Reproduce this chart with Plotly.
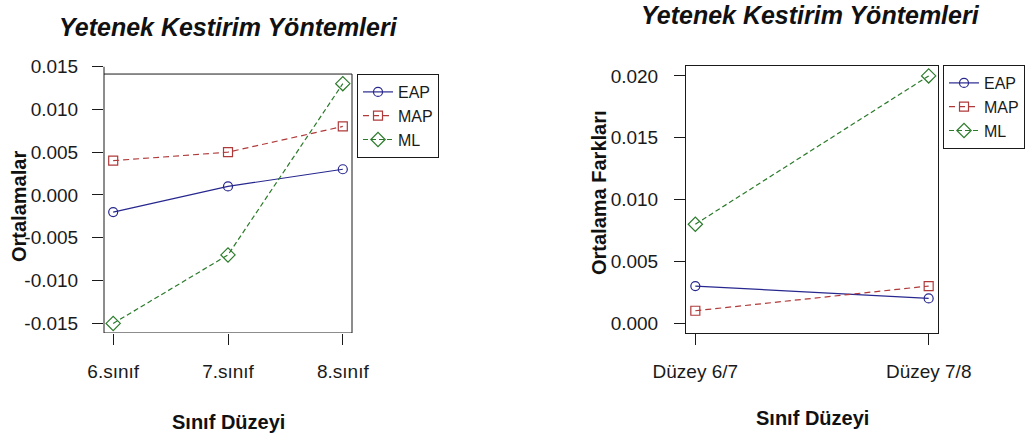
import plotly.graph_objects as go

# ---- data ----
left_categories = ["6.sınıf", "7.sınıf", "8.sınıf"]
left_eap = [-0.002, 0.001, 0.003]
left_map = [0.004, 0.005, 0.008]
left_ml = [-0.015, -0.007, 0.013]
left_yticks = [-0.015, -0.010, -0.005, 0.000, 0.005, 0.010, 0.015]
left_yticklabels = ["-0.015", "-0.010", "-0.005", "0.000", "0.005", "0.010", "0.015"]

right_categories = ["Düzey 6/7", "Düzey 7/8"]
right_eap = [0.003, 0.002]
right_map = [0.001, 0.003]
right_ml = [0.008, 0.020]
right_yticks = [0.000, 0.005, 0.010, 0.015, 0.020]
right_yticklabels = ["0.000", "0.005", "0.010", "0.015", "0.020"]

series_names = ["EAP", "MAP", "ML"]
title_text = "Yetenek Kestirim Yöntemleri"
xtitle = "Sınıf Düzeyi"
left_ytitle = "Ortalamalar"
right_ytitle = "Ortalama Farkları"

# ---- style ----
W, H = 1030, 436
FONT = "Liberation Sans, Arial, sans-serif"
colors = {"EAP": "#27278f", "MAP": "#b03a3a", "ML": "#2a7a2a"}
symbols = {"EAP": "circle-open", "MAP": "square-open", "ML": "diamond-open"}
msize = {"EAP": 9, "MAP": 9, "ML": 11}
dashes = {"EAP": "solid", "MAP": "6px,4px", "ML": "5px,3px"}


def px_x(p):
    return p / W


def px_y(p):
    return 1 - p / H


fig = go.Figure()

left_x = list(range(1, len(left_categories) + 1))
right_x = list(range(1, len(right_categories) + 1))

for name, vals in zip(series_names, [left_eap, left_map, left_ml]):
    fig.add_trace(go.Scatter(
        x=left_x, y=vals, mode="lines+markers", name=name,
        line=dict(color=colors[name], width=1.2, dash=dashes[name]),
        marker=dict(symbol=symbols[name], size=msize[name], color=colors[name],
                    line=dict(width=1.2, color=colors[name])),
        xaxis="x", yaxis="y", legend="legend",
    ))

for name, vals in zip(series_names, [right_eap, right_map, right_ml]):
    fig.add_trace(go.Scatter(
        x=right_x, y=vals, mode="lines+markers", name=name,
        line=dict(color=colors[name], width=1.2, dash=dashes[name]),
        marker=dict(symbol=symbols[name], size=msize[name], color=colors[name],
                    line=dict(width=1.2, color=colors[name])),
        xaxis="x2", yaxis="y2", legend="legend2",
    ))

tickfont = dict(family=FONT, size=19, color="#1a1a1a")
AX = "#1a1a1a"

# left plot box (R style, 4% extension)
l_lo = min(left_ml + left_eap + left_map)
l_hi = max(left_ml + left_eap + left_map)
l_pad = (l_hi - l_lo) * 0.04
l_box = [l_lo - l_pad, l_hi + l_pad]

legend_font = dict(family=FONT, size=16, color="#1a1a1a")

fig.update_layout(
    width=W, height=H,
    margin=dict(l=0, r=0, t=0, b=0, autoexpand=False),
    paper_bgcolor="white", plot_bgcolor="white",
    showlegend=True,
    xaxis=dict(
        domain=[px_x(104), px_x(352)], range=[0.92, 3.08],
        tickvals=left_x, ticktext=left_categories,
        showgrid=False, zeroline=False, showline=False, automargin=False,
        ticks="outside", ticklen=11, tickcolor=AX, tickwidth=1,
        tickfont=tickfont, ticklabelstandoff=10, anchor="y",
    ),
    yaxis=dict(
        domain=[px_y(333), px_y(66.5)], range=[l_box[0], 0.015],
        tickvals=left_yticks, ticktext=left_yticklabels,
        showgrid=False, zeroline=False, showline=False, automargin=False,
        ticks="outside", ticklen=11, tickcolor=AX, tickwidth=1,
        tickfont=tickfont, ticklabelstandoff=10, anchor="x",
    ),
    xaxis2=dict(
        domain=[px_x(686), px_x(938)], range=[0.96, 2.04],
        tickvals=right_x, ticktext=right_categories,
        showgrid=False, zeroline=False, showline=True, mirror=True, automargin=False,
        linecolor=AX, linewidth=1,
        ticks="outside", ticklen=11, tickcolor=AX, tickwidth=1,
        tickfont=tickfont, ticklabelstandoff=10, anchor="y2",
    ),
    yaxis2=dict(
        domain=[px_y(333), px_y(66)], range=[-0.0008, 0.0208],
        tickvals=right_yticks, ticktext=right_yticklabels,
        showgrid=False, zeroline=False, showline=True, mirror=True, automargin=False,
        linecolor=AX, linewidth=1,
        ticks="outside", ticklen=11, tickcolor=AX, tickwidth=1,
        tickfont=tickfont, ticklabelstandoff=12, anchor="x2",
    ),
    legend=dict(
        x=px_x(357), y=px_y(74), xanchor="left", yanchor="top",
        bordercolor=AX, borderwidth=1, bgcolor="white",
        font=legend_font, tracegroupgap=0, itemwidth=30,
    ),
    legend2=dict(
        x=px_x(943), y=px_y(65), xanchor="left", yanchor="top",
        bordercolor=AX, borderwidth=1, bgcolor="white",
        font=legend_font, tracegroupgap=0, itemwidth=30,
    ),
)

# left frame
fig.add_shape(type="rect", xref="x domain", yref="y", x0=0, x1=1,
              y0=l_box[0], y1=l_box[1], line=dict(color=AX, width=1),
              fillcolor="rgba(0,0,0,0)", layer="above")
fig.add_shape(type="line", xref="x domain", yref="y", x0=0, x1=0,
              y0=l_box[1], y1=left_yticks[-1], line=dict(color=AX, width=1))


def ann(text, x, y, size, angle=0):
    fig.add_annotation(text=text, xref="paper", yref="paper",
                       x=px_x(x), y=px_y(y), xanchor="center", yanchor="middle",
                       showarrow=False, textangle=angle,
                       font=dict(family=FONT, size=size, color="#111"))


ann("<b><i>" + title_text + "</i></b>", 228, 27, 25)
ann("<b><i>" + title_text + "</i></b>", 810, 15, 25)
ann("<b>" + xtitle + "</b>", 228, 422, 20)
ann("<b>" + xtitle + "</b>", 812, 418, 20)
ann("<b>" + left_ytitle + "</b>", 19, 207, 20, -90)
ann("<b>" + right_ytitle + "</b>", 599, 193, 20, -90)

fig.write_html("out.html", config={"displayModeBar": False},
               post_script="document.body.style.margin='0';")
